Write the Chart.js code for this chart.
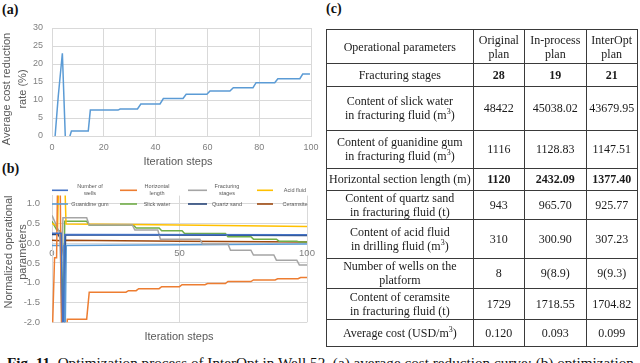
<!DOCTYPE html>
<html><head><meta charset="utf-8">
<script src="https://cdn.jsdelivr.net/npm/chart.js@4"></script>
<style>
html,body{margin:0;padding:0;background:#fff;width:640px;height:363px;overflow:hidden;}
body{position:relative;font-family:"Liberation Sans",Arial,sans-serif;}
canvas{position:absolute;left:0;}
.plab{position:absolute;font-family:"Liberation Serif",serif;font-weight:bold;font-size:14px;line-height:14px;color:#111;}
.ytitle{position:absolute;width:140px;text-align:center;transform:rotate(-90deg);transform-origin:50% 50%;font-size:11px;color:#595959;white-space:nowrap;}
.xtitle{position:absolute;width:120px;text-align:center;font-size:11px;line-height:12px;color:#595959;}
#tbl{position:absolute;left:326px;top:29px;width:311px;border-collapse:collapse;table-layout:fixed;font-family:"Liberation Serif",serif;font-size:12px;line-height:14px;color:#1a1a1a;border:1.5px solid #222;}
#tbl td{border:1px solid #3a3a3a;text-align:center;vertical-align:middle;padding:0;white-space:nowrap;}
#tbl sup{font-size:8px;line-height:0;vertical-align:5px;}
#cap{position:absolute;left:7px;top:355px;font-family:"Liberation Serif",serif;font-size:15.2px;line-height:15px;color:#111;white-space:nowrap;}
</style></head>
<body>
<div class="plab" style="left:2px;top:3px">(a)</div>
<div class="plab" style="left:2px;top:162px">(b)</div>
<div class="plab" style="left:326px;top:2px">(c)</div>

<canvas id="ca" width="330" height="170" style="top:0"></canvas>
<canvas id="cb" width="330" height="170" style="top:170px"></canvas>

<div class="ytitle" style="left:-56px;top:73px;line-height:16px;">Average cost reduction<br>rate (%)</div>
<div class="xtitle" style="left:118px;top:155px;">Iteration steps</div>
<div class="ytitle" style="left:-55px;top:238px;line-height:14px;">Normalized operational<br>parameters</div>
<div class="xtitle" style="left:119px;top:330px;">Iteration steps</div>

<table id="tbl"></table>
<div id="cap"><b>Fig. 11.</b> Optimization process of InterOpt in Well 52. (a) average cost reduction curve; (b) optimization</div>

<script>
// ---------- (a) average cost reduction curve ----------
const stepsA = [1.2, 2.4, 4, 5.2, 6.3, 7.5, 14, 14.8, 25.5, 26.3, 33, 34.3, 41.7, 43, 50.6, 51.8, 59.8, 61, 68.7, 70, 77.6, 78.8, 86, 87.2, 95.7, 96.8, 99.6];
const costReduction = [0, 10.9, 23, -1.5, -1.5, 1.4, 1.4, 7.2, 7.2, 7.5, 7.5, 8.9, 8.9, 10.4, 10.4, 11.6, 11.6, 12.5, 12.5, 13.4, 13.4, 14.8, 14.8, 15.9, 15.9, 17.2, 17.2];

// ---------- (b) normalized operational parameters ----------
const seriesNames = ["Number of\nwells", "Horizontal\nlength", "Fracturing\nstages", "Acid fluid", "Guanidine gum", "Slick water", "Quartz sand", "Ceramsite"];
const seriesColors = ["#4472C4", "#ED7D31", "#A5A5A5", "#FFC000", "#5B9BD5", "#70AD47", "#264478", "#9E480E"];
const yTicksB = [-2, -1.5, -1, -0.5, 0, 0.5, 1];

const wellsX = [0, 3.6, 4.3, 5.0, 100];
const wellsY = [0.25, 0.25, -2.6, 0.22, 0.21];
const horizX = [0, 1, 1.8, 2.2, 3.2, 3.8, 5.6, 6, 13.6, 14.6, 29, 30, 33, 34, 42, 43, 50, 51, 60, 61, 68, 69, 78, 79, 87.5, 88.5, 96.5, 97.5, 100];
const horizY = [-2.6, -0.37, -0.37, 1.6, 1.6, -2.6, -2.6, -1.92, -1.92, -1.24, -1.24, -1.2, -1.2, -1.15, -1.15, -1.1, -1.1, -1.05, -1.05, -1.02, -1.02, -0.97, -0.97, -0.93, -0.93, -0.9, -0.9, -0.87, -0.87];
const fracX = [0, 3, 3.6, 4.3, 13.6, 14.6, 31.5, 32.5, 41.5, 42.5, 58, 59, 69, 70, 78, 79, 87, 88, 96, 97, 100];
const fracY = [0.7, 0.26, -0.9, 0.64, 0.64, 0.46, 0.46, 0.33, 0.33, 0.1, 0.1, -0.02, -0.02, -0.18, -0.18, -0.3, -0.3, -0.43, -0.43, -0.55, -0.55];
const acidX = [0, 2.2, 2.6, 5.0, 5.5, 30, 50, 75, 100];
const acidY = [0.5, 0.42, 1.6, 1.6, 0.48, 0.47, 0.46, 0.44, 0.42];
const guarX = [0, 4.6, 5.1, 5.6, 100];
const guarY = [-0.06, -0.06, -2.6, -0.06, -0.02];
const slickX = [0, 1.8, 3.3, 4.4, 5.0, 13.6, 14.6, 32, 33, 42, 43, 51, 52, 68, 69, 78, 79, 88, 89, 96, 97, 100];
const slickY = [0.55, 0.34, 0.3, -1.6, 0.55, 0.55, 0.45, 0.45, 0.38, 0.38, 0.31, 0.31, 0.24, 0.24, 0.16, 0.16, 0.1, 0.1, 0.05, 0.05, 0.03, 0.03];
const quartzX = [0, 2.4, 3.4, 4.0, 4.8, 5.3, 100];
const quartzY = [0.22, 0.22, 0.1, -2.6, -2.6, 0.21, 0.19];
const ceramX = [0, 3.6, 4.4, 5.2, 50, 100];
const ceramY = [0.07, 0.06, -0.25, 0.07, 0.05, 0.03];

const seriesX = [wellsX, horizX, fracX, acidX, guarX, slickX, quartzX, ceramX];
const seriesY = [wellsY, horizY, fracY, acidY, guarY, slickY, quartzY, ceramY];

// ---------- (c) table ----------
const paramNames = [
  "Fracturing stages",
  "Content of slick water<br>in fracturing fluid (m<sup>3</sup>)",
  "Content of guanidine gum<br>in fracturing fluid (m<sup>3</sup>)",
  "Horizontal section length (m)",
  "Content of quartz sand<br>in fracturing fluid (t)",
  "Content of acid fluid<br>in drilling fluid (m<sup>3</sup>)",
  "Number of wells on the<br>platform",
  "Content of ceramsite<br>in fracturing fluid (t)",
  "Average cost (USD/m<sup>3</sup>)"
];
const originalPlan = ["28", "48422", "1116", "1120", "943", "310", "8", "1729", "0.120"];
const inProcessPlan = ["19", "45038.02", "1128.83", "2432.09", "965.70", "300.90", "9(8.9)", "1718.55", "0.093"];
const interOptPlan = ["21", "43679.95", "1147.51", "1377.40", "925.77", "307.23", "9(9.3)", "1704.82", "0.099"];
const boldRows = [0, 3];
const headerCells = ["Operational parameters", "Original<br>plan", "In-process<br>plan", "InterOpt<br>plan"];

// build table
(function(){
  const tbl = document.getElementById('tbl');
  const colW = [146.7, 51.3, 61.7, 51];
  const rowH = [34.4, 22.9, 43.4, 37.9, 22.7, 22.8, 38.7, 30.1, 31, 27];
  let html = '<colgroup>' + colW.map(w => '<col style="width:' + w + 'px">').join('') + '</colgroup>';
  html += '<tr style="height:' + rowH[0] + 'px">' + headerCells.map(c => '<td>' + c + '</td>').join('') + '</tr>';
  paramNames.forEach((p, i) => {
    const b = boldRows.includes(i);
    const v = [originalPlan[i], inProcessPlan[i], interOptPlan[i]].map(x => '<td>' + (b ? '<b>' + x + '</b>' : x) + '</td>').join('');
    html += '<tr style="height:' + rowH[i + 1] + 'px"><td>' + p + '</td>' + v + '</tr>';
  });
  tbl.innerHTML = html;
})();

Chart.defaults.font.family = '"Liberation Sans", Arial, sans-serif';
Chart.defaults.animation = false;

const grid = '#d9d9d9';
const tickCol = '#808080';

new Chart(document.getElementById('ca'), {
  type: 'line',
  data: {
    datasets: [{
      label: 'Average cost reduction rate',
      data: stepsA.map((x, i) => ({x: x, y: costReduction[i]})),
      borderColor: '#5B9BD5', borderWidth: 1.5, pointRadius: 0, tension: 0, fill: false
    }]
  },
  options: {
    responsive: false, devicePixelRatio: 1, animation: false,
    layout: {padding: {left: 0, top: 28, right: 19, bottom: 14}},
    plugins: {legend: {display: false}, tooltip: {enabled: false}},
    scales: {
      x: {type: 'linear', min: 0, max: 100,
        ticks: {stepSize: 20, color: tickCol, font: {size: 9}, padding: 6, maxRotation: 0},
        grid: {color: grid, drawTicks: false}, border: {color: grid},
        afterFit: s => { s.height = 20; }},
      y: {min: 0, max: 30,
        ticks: {stepSize: 5, color: tickCol, font: {size: 9}, padding: 9},
        grid: {color: grid, drawTicks: false}, border: {color: grid},
        afterFit: s => { s.width = 52; }}
    }
  }
});

const legendPlugin = {
  id: 'excelLegend',
  afterDatasetsDraw(chart) {
    const ctx = chart.ctx;
    const cols = [{sx: 52, ex: 68, tx: 90}, {sx: 120, ex: 137, tx: 157}, {sx: 188, ex: 207, tx: 227}, {sx: 257, ex: 273, tx: 295}];
    const rows = [20.3, 34];
    chart.data.datasets.forEach((ds, i) => {
      const c = cols[i % 4], y = rows[Math.floor(i / 4)];
      ctx.save();
      ctx.strokeStyle = ds.borderColor; ctx.lineWidth = 1.6;
      ctx.beginPath(); ctx.moveTo(c.sx, y); ctx.lineTo(c.ex, y); ctx.stroke();
      ctx.fillStyle = '#595959';
      ctx.font = '5.5px "Liberation Sans", Arial, sans-serif';
      ctx.textAlign = 'center'; ctx.textBaseline = 'middle';
      const lines = ds.label.split('\n');
      lines.forEach((t, k) => ctx.fillText(t, c.tx, y + (k - (lines.length - 1) / 2) * 7.3));
      ctx.restore();
    });
  }
};

new Chart(document.getElementById('cb'), {
  type: 'line',
  data: {
    datasets: seriesNames.map((n, k) => ({
      label: n,
      data: seriesX[k].map((x, i) => ({x: x, y: seriesY[k][i]})),
      borderColor: seriesColors[k], borderWidth: 1.5, pointRadius: 0, tension: 0, fill: false
    }))
  },
  options: {
    responsive: false, devicePixelRatio: 1, animation: false,
    layout: {padding: {left: 0, top: 25.6, right: 23, bottom: 10}},
    plugins: {legend: {display: false}, tooltip: {enabled: false}},
    scales: {
      x: {type: 'linear', min: 0, max: 100, position: {y: 0},
        ticks: {stepSize: 50, color: tickCol, font: {size: 9.5}, padding: 5, maxRotation: 0},
        grid: {color: grid, drawTicks: false}, border: {color: grid}},
      y: {min: -2, max: 1.2,
        ticks: {color: tickCol, font: {size: 9.5}, padding: 12, callback: v => Number(v).toFixed(1)},
        grid: {color: grid, drawTicks: false}, border: {color: grid},
        afterBuildTicks: s => { s.ticks = yTicksB.map(v => ({value: v})); },
        afterFit: s => { s.width = 52; }}
    }
  },
  plugins: [legendPlugin]
});
</script>
</body></html>
